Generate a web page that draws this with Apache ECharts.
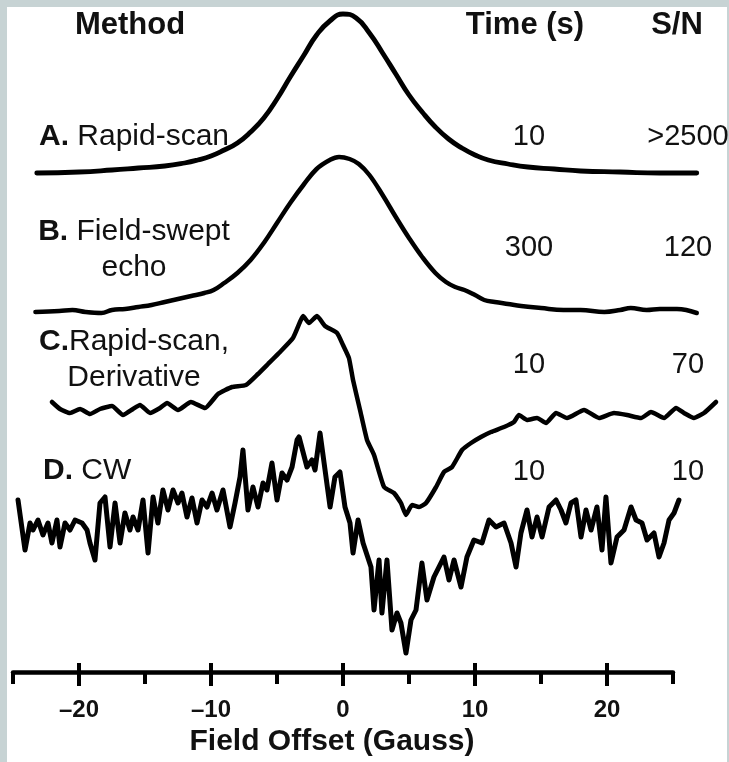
<!DOCTYPE html>
<html>
<head>
<meta charset="utf-8">
<script src="https://cdn.jsdelivr.net/npm/echarts@6/dist/echarts.min.js"></script>
<style>
html,body{margin:0;padding:0;background:#c7d3d4;}
#chart{width:729px;height:762px;}
</style>
</head>
<body>
<div id="chart"></div>
<script>
// ---- data (field offset in Gauss, signal in arbitrary units) ----
const traceA = [[-23.2,1],[-20,2],[-17.5,4],[-15.5,6],[-13.5,8],[-12,11],[-11,14],[-10,18],[-9,24],[-8,31],[-7,42],[-6,56],[-5,75],[-4,97],[-3,118],[-2,139],[-1,153],[0,160],[1,156],[2,141],[3,121],[4,100],[5,79],[6,62],[7,47],[8,35],[9,26],[10,19],[11,14],[12.5,10],[14,7],[16,5],[18,3],[21,2],[24,1],[26.8,1]];
const traceB = [[-23.3,-1],[-21.5,0],[-20.5,1],[-19.5,-1],[-18.3,-2],[-17.5,1],[-16.5,2],[-15.5,4],[-14.5,6],[-13.5,9],[-12.5,12],[-11.5,15],[-10.5,18],[-9.8,21],[-9,28],[-8,38],[-7,51],[-6,68],[-5,88],[-4,108],[-3,126],[-2,142],[-1,151],[-0.3,154],[0.5,152],[1.2,147],[2,136],[3,116],[4,94],[5,73],[6,54],[7,38],[7.8,29],[8.5,24],[9.2,21],[10,16],[10.7,11],[11.5,9],[12.5,7],[13.5,5],[15,3],[16.7,1],[18,1],[19.8,-1],[21,1],[21.8,3],[23,1],[24,2],[25.3,2],[26,1],[26.8,-2]];
const traceC = [[-22.05,8],[-21.44,1],[-20.68,-3],[-19.92,1],[-19.17,-4],[-18.41,1],[-17.5,4],[-16.67,-5],[-15.91,1],[-15.38,5],[-14.62,-3],[-13.86,2],[-13.33,7],[-12.5,0],[-11.52,8],[-10.45,2],[-9.47,16],[-8.41,23],[-7.35,25],[-6.44,36],[-5.68,46],[-4.85,57],[-3.79,72],[-3.26,88],[-3.03,94],[-2.58,87],[-1.97,94],[-1.36,84],[-0.45,77],[0,65],[0.45,52],[0.76,30],[1.29,0],[1.82,-30],[2.35,-45],[3.11,-77],[3.86,-83],[4.39,-93],[4.77,-105],[5.23,-95],[5.76,-97],[6.29,-93],[7.05,-77],[7.65,-62],[8.26,-57],[9.02,-40],[9.7,-33],[10.45,-27],[11.21,-22],[12.2,-17],[12.95,-12],[13.33,-5],[13.94,-10],[14.7,-8],[15.38,-13],[16.14,-3],[16.97,-8],[18.26,0],[19.39,-8],[20.53,-3],[21.52,-5],[22.58,-8],[23.33,-2],[24.32,-8],[25.23,2],[25.83,-3],[26.59,-8],[27.35,-3],[28.26,8]];
const traceD = [[-24.62,25],[-24.09,-25],[-23.71,2],[-23.48,-5],[-23.11,5],[-22.73,-10],[-22.35,2],[-22.05,-18],[-21.67,5],[-21.44,-22],[-21.06,2],[-20.68,-5],[-20.3,5],[-19.77,2],[-19.39,-5],[-19.17,-18],[-18.79,-35],[-18.41,22],[-18.03,28],[-17.65,-22],[-17.27,22],[-16.89,-18],[-16.52,12],[-16.14,-5],[-15.91,8],[-15.53,-5],[-15.15,25],[-14.77,-28],[-14.39,28],[-14.02,2],[-13.64,35],[-13.26,15],[-12.88,35],[-12.5,22],[-12.2,32],[-11.82,8],[-11.44,27],[-11.06,2],[-10.68,25],[-10.3,18],[-9.92,32],[-9.55,15],[-9.09,35],[-8.56,-2],[-8.18,22],[-7.8,48],[-7.58,75],[-7.2,15],[-6.82,38],[-6.44,18],[-6.06,42],[-5.76,35],[-5.38,62],[-5.0,25],[-4.62,52],[-4.24,45],[-3.86,58],[-3.48,85],[-3.33,88],[-2.73,58],[-2.35,65],[-2.12,55],[-1.74,92],[-1.36,55],[-0.98,18],[-0.61,48],[-0.23,53],[0.15,18],[0.53,2],[0.76,-28],[1.14,5],[1.52,-18],[2.12,-42],[2.35,-85],[2.73,-35],[2.95,-88],[3.33,-35],[3.71,-105],[4.09,-88],[4.39,-98],[4.77,-128],[5.15,-95],[5.53,-85],[5.98,-38],[6.36,-75],[6.89,-52],[7.65,-32],[8.03,-55],[8.41,-35],[8.94,-62],[9.39,-32],[9.92,-15],[10.53,-18],[11.06,5],[11.59,-2],[12.2,2],[12.73,-18],[13.11,-42],[13.48,-8],[13.94,15],[14.32,-12],[14.7,8],[15.08,-12],[15.61,18],[16.14,25],[16.52,15],[16.89,2],[17.27,22],[17.65,25],[18.03,-12],[18.41,15],[18.79,-5],[19.24,18],[19.62,-25],[19.92,28],[20.3,-38],[20.76,-12],[21.29,-5],[21.82,18],[22.2,5],[22.65,2],[23.03,-15],[23.56,-8],[23.94,-32],[24.32,-18],[24.7,5],[25.08,12],[25.45,25]];

const headers = ['Method', 'Time (s)', 'S/N'];
const methodLetters = ['A.', 'B.', 'C.', 'D.'];
const methodNames = ['Rapid-scan', 'Field-swept\necho', 'Rapid-scan,\nDerivative', 'CW'];
const times = ['10', '300', '10', '10'];
const snr = ['>2500', '120', '70', '10'];
const axisTitle = 'Field Offset (Gauss)';

// ---- layout (vertical stacking offsets of the traces, text positions) ----
const FONT = "'Liberation Sans', Arial, Helvetica, sans-serif";
const offsets = [498, 361, 262, 147];
const traces = [traceA, traceB, traceC, traceD];
const smoothness = [0.5, 0.4, 0.15, 0];
const widths = [4.8, 4.5, 4.5, 5];
const rowY = [137, 248, 365, 472];
const labelPos = [
  {x: 134, y: 137, align: 'center'},
  {x: 134, y: 250, align: 'center'},
  {x: 134, y: 360, align: 'center'},
  {x: 43, y: 471, align: 'left'}
];
const timeX = 529, snrX = 688;
const headerPos = [[130, 25], [525, 25], [677, 25]];

const chart = echarts.init(document.getElementById('chart'));

const graphics = [
  {type: 'rect', z: -100, silent: true, shape: {x: 7, y: 7, width: 720, height: 760}, style: {fill: '#ffffff'}}
];
headers.forEach((h, i) => graphics.push({
  type: 'text', x: headerPos[i][0], y: headerPos[i][1],
  style: {text: h, fontFamily: FONT, fontSize: 31, fontWeight: 'bold', fill: '#111', align: 'center', verticalAlign: 'middle'}
}));
methodNames.forEach((name, i) => {
  const lines = name.split('\n');
  const txt = '{b|' + methodLetters[i] + '}' + (i === 2 ? '' : ' ') + lines[0] + (lines[1] ? '\n' + lines[1] : '');
  graphics.push({
    type: 'text', x: labelPos[i].x, y: labelPos[i].y,
    style: {
      text: txt, fontFamily: FONT, fontSize: 30, fill: '#111', lineHeight: 36,
      align: labelPos[i].align, verticalAlign: 'middle',
      rich: {b: {fontFamily: FONT, fontSize: 30, fontWeight: 'bold', fill: '#111', lineHeight: 36}}
    }
  });
  graphics.push({
    type: 'text', x: timeX, y: rowY[i],
    style: {text: times[i], fontFamily: FONT, fontSize: 29, fill: '#111', align: 'center', verticalAlign: 'middle'}
  });
  graphics.push({
    type: 'text', x: snrX, y: rowY[i],
    style: {text: snr[i], fontFamily: FONT, fontSize: 29, fill: '#111', align: 'center', verticalAlign: 'middle'}
  });
});

const series = traces.map((tr, i) => ({
  type: 'line', xAxisIndex: 0, yAxisIndex: 0,
  data: tr.map(p => [p[0], p[1] + offsets[i]]),
  showSymbol: false, smooth: smoothness[i], clip: false,
  lineStyle: {color: '#000', width: widths[i], join: 'round', cap: 'round'},
  silent: true, animation: false
}));

chart.setOption({
  backgroundColor: '#c7d3d4',
  animation: false,
  grid: [
    {left: 13, width: 706.2, top: 0, height: 672},
    {left: 13, width: 660, top: 0, height: 672},
    {left: 79, width: 528, top: 0, height: 672}
  ],
  xAxis: [
    {gridIndex: 0, type: 'value', min: -25, max: 28.5, show: false},
    {gridIndex: 1, type: 'value', min: -25, max: 25, interval: 5,
      axisLine: {show: true, lineStyle: {color: '#000', width: 4.5}},
      axisTick: {show: true, length: 12, lineStyle: {color: '#000', width: 4}},
      axisLabel: {show: false}, splitLine: {show: false}},
    {gridIndex: 2, type: 'value', min: -20, max: 20, interval: 10,
      axisLine: {show: false},
      axisTick: {show: true, length: 23, lineStyle: {color: '#000', width: 4}},
      axisLabel: {show: true, margin: 35, fontFamily: FONT, fontSize: 24, fontWeight: 'bold', color: '#111',
        formatter: v => (v < 0 ? '\u2013' + Math.abs(v) : String(v))},
      splitLine: {show: false},
      name: axisTitle, nameLocation: 'middle', nameGap: 63,
      nameTextStyle: {fontFamily: FONT, fontSize: 30, fontWeight: 'bold', color: '#111', padding: [0, 22, 0, 0]}}
  ],
  yAxis: [
    {gridIndex: 0, type: 'value', min: 0, max: 672, show: false},
    {gridIndex: 1, type: 'value', min: 0, max: 672, show: false},
    {gridIndex: 2, type: 'value', min: 0, max: 672, show: false}
  ],
  graphic: graphics,
  series: series
});
</script>
</body>
</html>
